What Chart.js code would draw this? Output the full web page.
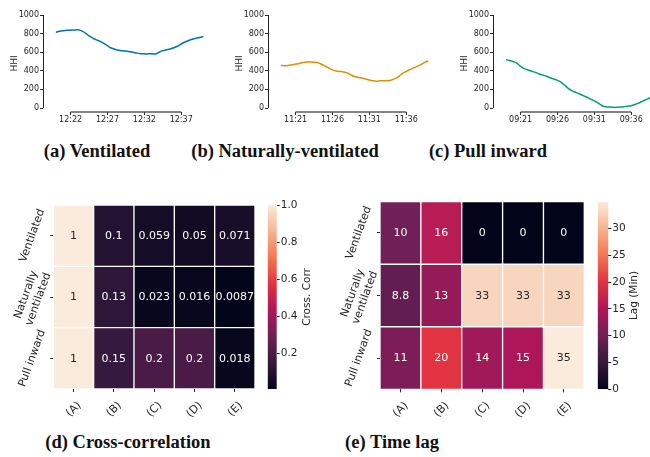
<!DOCTYPE html>
<html>
<head>
<meta charset="utf-8">
<script src="https://cdn.jsdelivr.net/npm/chart.js@4.4.0/dist/chart.umd.min.js"></script>
<style>
body { margin: 0; background: #fff; width: 650px; height: 457px; overflow: hidden; position: relative; }
canvas { position: absolute; }
.cap { position: absolute; font-family: "Liberation Serif", serif; font-weight: bold; font-size: 18.5px; line-height: 20px; color: #111; white-space: nowrap; transform: translateX(-50%); }
</style>
</head>
<body>
<canvas id="line-a" width="215" height="135" style="left:0px;top:0px"></canvas>
<canvas id="line-b" width="215" height="135" style="left:225px;top:0px"></canvas>
<canvas id="line-c" width="215" height="135" style="left:450px;top:0px"></canvas>
<canvas id="heat-d" width="258" height="240" style="left:0px;top:190px"></canvas>
<canvas id="bar-d" width="68" height="240" style="left:262px;top:190px"></canvas>
<canvas id="heat-e" width="256" height="240" style="left:330px;top:190px"></canvas>
<canvas id="bar-e" width="60" height="240" style="left:590px;top:190px"></canvas>

<div class="cap" style="left:97px;top:141px">(a) Ventilated</div>
<div class="cap" style="left:285px;top:141px">(b) Naturally-ventilated</div>
<div class="cap" style="left:488px;top:141px">(c) Pull inward</div>
<div class="cap" style="left:128px;top:432px">(d) Cross-correlation</div>
<div class="cap" style="left:392px;top:432px">(e) Time lag</div>

<script>
// Time series (minutes after the first labelled tick, one sample every 30 s)

const sampleMinutes = [-2, -1.5, -1, -0.5, 0, 0.5, 1, 1.5, 2, 2.5, 3, 3.5, 4, 4.5, 5, 5.5, 6, 6.5, 7, 7.5,
    8, 8.5, 9, 9.5, 10, 10.5, 11, 11.5, 12, 12.5, 13, 13.5, 14, 14.5, 15, 15.5, 16, 16.5, 17, 17.5, 18];

const ventilatedHHI = [813, 826, 831, 835, 837, 839, 841, 829, 806, 775, 751, 732, 717, 695, 670, 645, 631, 620, 615, 612,
    606, 599, 590, 584, 582, 582, 582, 580, 600, 617, 626, 634, 648, 664, 688, 710, 726, 740, 751, 759, 768];
const naturalHHI = [459, 453, 458, 465, 472, 479, 490, 495, 495, 492, 488, 471, 452, 430, 410, 399, 393, 388, 378, 355,
    338, 327, 322, 311, 300, 292, 287, 292, 294, 294, 301, 316, 340, 373, 393, 413, 432, 448, 467, 490, 507];
const pullHHI = [520, 510, 500, 482, 447, 423, 408, 395, 383, 366, 354, 342, 325, 312, 297, 276, 243, 209, 185, 168,
    151, 133, 115, 96, 76, 54, 27, 14, 11, 7, 7, 10, 14, 20, 25, 37, 53, 72, 90, 107, 125];

const tickMinutes = [0, 5, 10, 15];
const ventilatedTicks = ['12:22', '12:27', '12:32', '12:37'];
const naturalTicks = ['11:21', '11:26', '11:31', '11:36'];
const pullTicks = ['09:21', '09:26', '09:31', '09:36'];
const hhiTicks = [0, 200, 400, 600, 800, 1000];

// Heatmaps

const rowNames = [['Ventilated'], ['Naturally', 'ventilated'], ['Pull inward']];
const colNames = ['(A)', '(B)', '(C)', '(D)', '(E)'];

const corrVentilated = [1, 0.1, 0.059, 0.05, 0.071];
const corrNatural = [1, 0.13, 0.023, 0.016, 0.0087];
const corrPull = [1, 0.15, 0.2, 0.2, 0.018];

const lagVentilated = [10, 16, 0, 0, 0];
const lagNatural = [8.8, 13, 33, 33, 33];
const lagPull = [11, 20, 14, 15, 35];

const corrBarTicks = [0.2, 0.4, 0.6, 0.8, 1.0];
const lagBarTicks = [0, 5, 10, 15, 20, 25, 30];

// seaborn "rocket" colour map, sampled at 0, 1/7, ... 1
const rocketStops = ['#03051a', '#35193e', '#701f57', '#ad1759', '#e13342', '#f37651', '#f6b48f', '#faebdd'];

const tickFont = { family: 'DejaVu Sans', size: 8 };
const heatFont = { family: 'DejaVu Sans', size: 11 };
const barFont = { family: 'DejaVu Sans', size: 10.5 };
const inkColor = '#262626';

function hexToRgb(hex) {
    return [1, 3, 5].map(i => parseInt(hex.substr(i, 2), 16));
}

function rocket(t) {
    t = Math.max(0, Math.min(1, t));
    const pos = t * (rocketStops.length - 1);
    const i = Math.min(Math.floor(pos), rocketStops.length - 2);
    const f = pos - i;
    const a = hexToRgb(rocketStops[i]);
    const b = hexToRgb(rocketStops[i + 1]);
    const c = a.map((v, k) => Math.round(v + (b[k] - v) * f));
    return 'rgb(' + c.join(',') + ')';
}

function textColorFor(rgbString) {
    const c = rgbString.match(/\d+/g).map(Number).map(v => {
        v = v / 255;
        return v <= 0.03928 ? v / 12.92 : Math.pow((v + 0.055) / 1.055, 2.4);
    });
    const lum = 0.2126 * c[0] + 0.7152 * c[1] + 0.0722 * c[2];
    return lum > 0.408 ? inkColor : '#ffffff';
}

// Line charts

const trimmedAxes = {
    id: 'trimmedAxes',
    afterDraw(chart) {
        const ctx = chart.ctx;
        const area = chart.chartArea;
        const x = chart.scales.x;
        const y = chart.scales.y;
        ctx.save();
        ctx.strokeStyle = inkColor;
        ctx.lineWidth = 1;
        ctx.beginPath();
        ctx.moveTo(area.left + 0.5, y.getPixelForValue(hhiTicks[0]));
        ctx.lineTo(area.left + 0.5, y.getPixelForValue(hhiTicks[hhiTicks.length - 1]));
        ctx.stroke();
        ctx.strokeStyle = '#5a5a5a';
        ctx.lineWidth = 1.5;
        ctx.beginPath();
        ctx.moveTo(x.getPixelForValue(tickMinutes[0]), area.bottom);
        ctx.lineTo(x.getPixelForValue(tickMinutes[tickMinutes.length - 1]), area.bottom);
        ctx.stroke();
        ctx.restore();
    }
};

function makeLineChart(id, values, tickLabels, color) {
    const points = sampleMinutes.map((m, i) => ({ x: m, y: values[i] }));
    new Chart(document.getElementById(id), {
        type: 'line',
        data: {
            datasets: [{
                data: points,
                borderColor: color,
                borderWidth: 1.5,
                pointRadius: 0,
                fill: false,
                tension: 0.2
            }]
        },
        options: {
            responsive: false,
            animation: false,
            devicePixelRatio: 1,
            clip: false,
            layout: { padding: { top: 15, right: 8, left: 0, bottom: 0 } },
            plugins: { legend: { display: false }, tooltip: { enabled: false } },
            scales: {
                x: {
                    type: 'linear',
                    min: -3.75,
                    max: 18.5,
                    border: { display: false },
                    grid: { drawOnChartArea: false, tickLength: 3, color: inkColor },
                    ticks: {
                        font: tickFont, color: inkColor, padding: 0, maxRotation: 0,
                        callback: (v, i) => tickLabels[i]
                    },
                    afterBuildTicks: s => { s.ticks = tickMinutes.map(v => ({ value: v })); },
                    afterFit: s => { s.height = 23; }
                },
                y: {
                    min: -43,
                    max: 1000,
                    border: { display: false },
                    grid: { drawOnChartArea: false, tickLength: 3, color: inkColor },
                    ticks: { font: tickFont, color: inkColor, padding: 1, callback: v => String(v) },
                    title: {
                        display: true, text: 'HHI', color: inkColor,
                        font: { family: 'DejaVu Sans', size: 9 }, padding: { top: 9, bottom: 0 }
                    },
                    afterBuildTicks: s => { s.ticks = hhiTicks.map(v => ({ value: v })); },
                    afterFit: s => { s.width = 43; }
                }
            }
        },
        plugins: [trimmedAxes]
    });
}

makeLineChart('line-a', ventilatedHHI, ventilatedTicks, '#0173b2');
makeLineChart('line-b', naturalHHI, naturalTicks, '#de8f05');
makeLineChart('line-c', pullHHI, pullTicks, '#029e73');

// Heatmaps drawn as floating bars, one dataset per row

const cellLabels = {
    id: 'cellLabels',
    afterDatasetsDraw(chart) {
        const ctx = chart.ctx;
        ctx.save();
        ctx.font = '11px "DejaVu Sans"';
        ctx.textAlign = 'center';
        ctx.textBaseline = 'middle';
        chart.data.datasets.forEach((ds, i) => {
            chart.getDatasetMeta(i).data.forEach((bar, j) => {
                const p = bar.getProps(['x', 'y', 'base'], true);
                ctx.fillStyle = ds.textColors[j];
                ctx.fillText(String(ds.values[j]), p.x, (p.y + p.base) / 2 + 0.5);
            });
        });
        ctx.restore();
    }
};

function makeHeatmap(id, rows, padding, axisWidth, axisHeight) {
    let all = [].concat(...rows);
    const lo = Math.min(...all);
    const hi = Math.max(...all);
    const datasets = rows.map((row, r) => {
        const colors = row.map(v => rocket((v - lo) / (hi - lo)));
        return {
            data: row.map(() => [r, r + 1]),
            values: row,
            backgroundColor: colors,
            textColors: colors.map(textColorFor),
            borderColor: '#ffffff',
            borderWidth: 1,
            borderSkipped: false,
            grouped: false,
            barPercentage: 1,
            categoryPercentage: 1
        };
    });
    new Chart(document.getElementById(id), {
        type: 'bar',
        data: { labels: colNames, datasets: datasets },
        options: {
            responsive: false,
            animation: false,
            devicePixelRatio: 1,
            layout: { padding: padding },
            plugins: { legend: { display: false }, tooltip: { enabled: false } },
            scales: {
                x: {
                    border: { display: false },
                    grid: { drawOnChartArea: false, offset: false, tickLength: 3, color: inkColor },
                    ticks: { font: heatFont, color: inkColor, minRotation: 45, maxRotation: 45, padding: 7, labelOffset: 6 },
                    afterFit: s => { s.height = axisHeight; }
                },
                y: {
                    type: 'linear',
                    min: 0,
                    max: rows.length,
                    reverse: true,
                    border: { display: false },
                    grid: { drawOnChartArea: false, tickLength: 3, color: inkColor },
                    ticks: {
                        font: heatFont, color: inkColor, minRotation: 70, maxRotation: 70,
                        crossAlign: 'center', padding: -12,
                        callback: (v, i) => rowNames[i]
                    },
                    afterBuildTicks: s => { s.ticks = rowNames.map((n, i) => ({ value: i + 0.5 })); },
                    afterFit: s => { s.width = axisWidth; }
                }
            }
        },
        plugins: [cellLabels]
    });
}

makeHeatmap('heat-d', [corrVentilated, corrNatural, corrPull], { top: 15, right: 3, left: 0, bottom: 0 }, 53.3, 41);
makeHeatmap('heat-e', [lagVentilated, lagNatural, lagPull], { top: 11.7, right: 1.7, left: 0, bottom: 0 }, 50, 40.7);

// Colour bars

function makeColorBar(id, lo, hi, ticks, digits, label, padding, axisWidth, labelX) {
    const barLabel = {
        id: 'barLabel',
        afterDraw(chart) {
            const ctx = chart.ctx;
            const area = chart.chartArea;
            ctx.save();
            ctx.font = '10.5px "DejaVu Sans"';
            ctx.fillStyle = inkColor;
            ctx.textAlign = 'center';
            ctx.textBaseline = 'middle';
            ctx.translate(labelX, (area.top + area.bottom) / 2);
            ctx.rotate(-Math.PI / 2);
            ctx.fillText(label, 0, 0);
            ctx.restore();
        }
    };
    new Chart(document.getElementById(id), {
        type: 'bar',
        data: {
            labels: [''],
            datasets: [{
                data: [[lo, hi]],
                borderWidth: 0,
                barPercentage: 1,
                categoryPercentage: 1,
                backgroundColor: function (context) {
                    const chart = context.chart;
                    const area = chart.chartArea;
                    if (!area) {
                        return rocketStops[0];
                    }
                    const g = chart.ctx.createLinearGradient(0, area.bottom, 0, area.top);
                    rocketStops.forEach((c, i) => g.addColorStop(i / (rocketStops.length - 1), c));
                    return g;
                }
            }]
        },
        options: {
            responsive: false,
            animation: false,
            devicePixelRatio: 1,
            layout: { padding: padding },
            plugins: { legend: { display: false }, tooltip: { enabled: false } },
            scales: {
                x: { display: false },
                y: {
                    position: 'right',
                    min: lo,
                    max: hi,
                    border: { display: false },
                    grid: { drawOnChartArea: false, tickLength: 3, color: inkColor },
                    ticks: {
                        font: barFont, color: inkColor, padding: 1,
                        callback: v => Number(v).toFixed(digits)
                    },
                    afterBuildTicks: s => { s.ticks = ticks.map(v => ({ value: v })); },
                    afterFit: s => { s.width = axisWidth; }
                }
            }
        },
        plugins: [barLabel]
    });
}

makeColorBar('bar-d', Math.min(...corrVentilated, ...corrNatural, ...corrPull), 1.0, corrBarTicks, 1,
    'Cross. Corr', { top: 15, bottom: 41, left: 5.7, right: 0 }, 53.3, 45);
makeColorBar('bar-e', 0, Math.max(...lagVentilated, ...lagNatural, ...lagPull), lagBarTicks, 0,
    'Lag (Min)', { top: 11.7, bottom: 40.7, left: 7.7, right: 0 }, 41.7, 44);
</script>
</body>
</html>
